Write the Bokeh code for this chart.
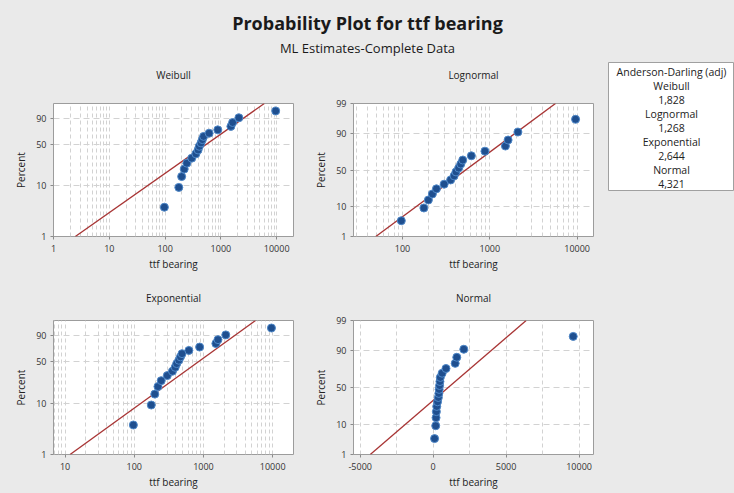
import math
from statistics import NormalDist
from bokeh.plotting import figure
from bokeh.models import Range1d, FixedTicker, NumeralTickFormatter
from bokeh.layouts import row, column
from bokeh.embed import file_html
from bokeh.resources import INLINE
from bokeh.core.properties import value

# ---------------- data ----------------
ttf_bearing = [97, 176, 198, 220, 245, 300, 356, 390, 410, 440, 465, 490,
               615, 880, 1510, 1620, 2100, 9600]
percent = [3.8, 9.2, 14.7, 20.1, 25.5, 31.0, 36.4, 41.8, 47.3, 52.7, 58.2,
           63.6, 69.0, 74.5, 79.9, 85.3, 90.8, 96.2]

# fitted (ML) lines: end points (x value, percent)
weibull_fit_x = [2.46, 6000]
weibull_fit_pct = [1, 99]
lognormal_fit_x = [49.5, 5650]
lognormal_fit_pct = [1, 99]
exponential_fit_x = [11.8, 5650]
exponential_fit_pct = [1, 99]
normal_fit_x = [-4310, 6375]
normal_fit_pct = [1, 99]

panel_titles = ["Weibull", "Lognormal", "Exponential", "Normal"]
ad_names = ["Weibull", "Lognormal", "Exponential", "Normal"]
ad_values = ["1,828", "1,268", "2,644", "4,321"]

weibull_pct_ticks = [1, 10, 50, 90]
normal_pct_ticks = [1, 10, 50, 90, 99]

weibull_x_ticks = [1, 10, 100, 1000, 10000]
lognormal_x_ticks = [100, 1000, 10000]
exponential_x_ticks = [10, 100, 1000, 10000]
normal_x_ticks = [-5000, 0, 5000, 10000]
normal_x_minor = [-2500, 2500, 7500]

BG = "#eaeaea"
FONT = "Open Sans"
PT_FILL = "#1f4f8f"
PT_LINE = "#4f88c8"
FIT = "#a83535"
GRID = "#d2d2d2"


def t_weib(p):
    return round(math.log(-math.log(1 - p / 100.0)), 6)


def t_norm(p):
    return round(NormalDist().inv_cdf(p / 100.0), 6)


def log_minor(lo, hi):
    out = []
    k = 0.1
    while k < hi * 10:
        for m in range(2, 10):
            v = m * k
            if lo <= v <= hi:
                out.append(v)
        k *= 10
    return out


def blank(w, h):
    f = figure(width=w, height=h, x_range=Range1d(0, w),
               y_range=Range1d(h, 0), min_border=0, output_backend="svg",
               toolbar_location=None, x_axis_location=None,
               y_axis_location=None, background_fill_color=BG,
               border_fill_color=BG, outline_line_color=None)
    f.grid.visible = False
    return f


def panel(xtype, xr, xticks, xminor, tf, pticks, fit_x, fit_p, top_row):
    p = figure(width=300, height=197 if top_row else 183,
               x_axis_type=xtype, x_range=Range1d(*xr),
               y_range=Range1d(tf(1), tf(99)),
               output_backend="svg", toolbar_location=None,
               min_border_left=53, min_border_right=7,
               min_border_top=15 if top_row else 10,
               min_border_bottom=49 if top_row else 39,
               background_fill_color="white", border_fill_color=BG,
               outline_line_color="#9c9c9c")

    p.xaxis.ticker = FixedTicker(ticks=xticks, minor_ticks=xminor)
    p.xaxis.formatter = NumeralTickFormatter(format="0")
    p.yaxis.ticker = FixedTicker(ticks=[tf(v) for v in pticks])
    p.yaxis.major_label_overrides = {tf(v): str(v) for v in pticks}
    for ax in (p.xaxis, p.yaxis):
        ax.axis_line_color = None
        ax.major_tick_in = 0
        ax.major_tick_out = 3
        ax.major_tick_line_color = "#8a8a8a"
        ax.minor_tick_line_color = None
        ax.major_label_text_font = FONT
        ax.major_label_text_font_size = "9px"
        ax.major_label_text_color = "#333333"
        ax.axis_label_text_font = FONT
        ax.axis_label_text_font_size = "10px"
        ax.axis_label_text_font_style = "normal"
        ax.axis_label_text_color = "#222222"
    p.xaxis.major_label_standoff = 4
    p.yaxis.major_label_standoff = 4
    p.xaxis.axis_label = "ttf bearing"
    p.yaxis.axis_label = "Percent"
    p.xaxis.axis_label_standoff = 2
    p.yaxis.axis_label_standoff = 5

    p.xgrid.grid_line_color = GRID
    p.xgrid.grid_line_dash = "4 3"
    p.xgrid.minor_grid_line_color = GRID
    p.xgrid.minor_grid_line_dash = "4 3"
    p.ygrid.grid_line_color = GRID
    p.ygrid.grid_line_dash = "6 4"

    p.line(x=fit_x, y=[tf(v) for v in fit_p], line_color=FIT, line_width=1.3)
    p.scatter(x=ttf_bearing, y=[tf(v) for v in percent], size=8,
              fill_color=PT_FILL, line_color=PT_LINE, line_width=1)
    return p


weib = panel("log", (1, 20000), weibull_x_ticks, log_minor(1, 20000),
             t_weib, weibull_pct_ticks, weibull_fit_x, weibull_fit_pct, True)
logn = panel("log", (27.5, 15400), lognormal_x_ticks,
             log_minor(27.5, 15400), t_norm, normal_pct_ticks,
             lognormal_fit_x, lognormal_fit_pct, True)
expo = panel("log", (6.8, 20000), exponential_x_ticks,
             log_minor(6.8, 20000), t_weib, weibull_pct_ticks,
             exponential_fit_x, exponential_fit_pct, False)
norm = panel("linear", (-5460, 10990), normal_x_ticks, normal_x_minor,
             t_norm, normal_pct_ticks, normal_fit_x, normal_fit_pct, False)

# header with the main titles and the first row's panel titles
hdr = blank(600, 88)
hdr.text(x=[367], y=[22], text=["Probability Plot for ttf bearing"],
         text_align="center", text_baseline="middle",
         text_font=value(FONT), text_font_size="18px",
         text_font_style="bold", text_color="#1a1a1a")
hdr.text(x=[367], y=[47], text=["ML Estimates-Complete Data"],
         text_align="center", text_baseline="middle",
         text_font=value(FONT), text_font_size="13px", text_color="#1a1a1a")
hdr.text(x=[173, 473], y=[74, 74], text=panel_titles[:2],
         text_align="center", text_baseline="middle",
         text_font=value(FONT), text_font_size="10px", text_color="#222222")

# strip with the second row's panel titles
mid = blank(600, 25)
mid.text(x=[173, 473], y=[12, 12], text=panel_titles[2:],
         text_align="center", text_baseline="middle",
         text_font=value(FONT), text_font_size="10px", text_color="#222222")

# Anderson-Darling box
lg = blank(134, 493)
lg.quad(left=[8], right=[133], top=[62], bottom=[190], fill_color="white",
        line_color="#a0a0a0", line_width=1)
lines = ["Anderson-Darling (adj)"]
for n, v in zip(ad_names, ad_values):
    lines += [n, v]
lg.text(x=[71] * len(lines), y=[71 + 14 * i for i in range(len(lines))],
        text=lines, text_align="center", text_baseline="middle",
        text_font=value(FONT), text_font_size="10.5px", text_color="#222222")

sty = {"background-color": BG}
left = column(hdr, row(weib, logn, styles=sty), mid,
              row(expo, norm, styles=sty), styles=sty)
layout = row(left, lg, styles=sty)
open("out.html", "w").write(file_html(layout, INLINE))
